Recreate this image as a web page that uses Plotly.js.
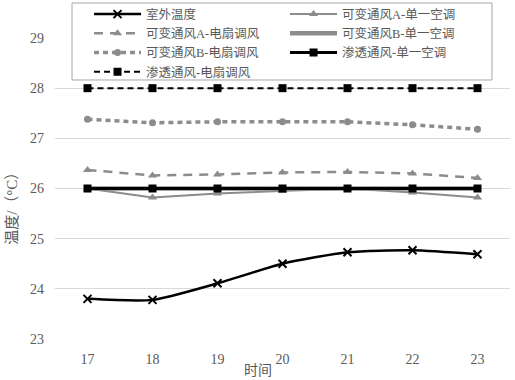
<!DOCTYPE html>
<html><head><meta charset="utf-8">
<script src="https://cdn.plot.ly/plotly-3.0.1.min.js"></script>
<style>html,body{margin:0;padding:0;background:#fff}#chart{width:515px;height:380px}</style>
</head><body><div id="chart"></div>
<script>
const hours = ['17','18','19','20','21','22','23'];
const outdoor = [23.80, 23.78, 24.11, 24.50, 24.73, 24.77, 24.69];
const varA_ac = [26.00, 25.82, 25.90, 25.95, 26.00, 25.92, 25.82];
const varA_fan = [26.37, 26.26, 26.28, 26.32, 26.33, 26.30, 26.21];
const varB_ac = [26.00, 26.00, 26.00, 26.00, 26.00, 26.00, 26.00];
const varB_fan = [27.38, 27.31, 27.33, 27.33, 27.33, 27.27, 27.18];
const inf_ac = [26.00, 26.00, 26.00, 26.00, 26.00, 26.00, 26.00];
const inf_fan = [28.00, 28.00, 28.00, 28.00, 28.00, 28.00, 28.00];
const names = ['室外温度','可变通风A-单一空调','可变通风A-电扇调风','可变通风B-单一空调','可变通风B-电扇调风','渗透通风-单一空调','渗透通风-电扇调风'];

const gray = '#8c8c8c';
const FONT = 'Liberation Serif, Noto Sans CJK SC, serif';
const traces = [
  {x:hours, y:outdoor, name:names[0], mode:'lines+markers', line:{color:'#000', width:2.5, shape:'spline', smoothing:0.6},
   marker:{symbol:'x-thin', size:8, line:{color:'#000', width:2}, color:'#000'}},
  {x:hours, y:varA_ac, name:names[1], mode:'lines+markers', line:{color:gray, width:2},
   marker:{symbol:'triangle-up', size:8, color:gray}},
  {x:hours, y:varA_fan, name:names[2], mode:'lines+markers', line:{color:gray, width:2.5, dash:'9px,7px'},
   marker:{symbol:'triangle-up', size:8, color:gray}},
  {x:hours, y:varB_ac, name:names[3], mode:'lines', line:{color:gray, width:4.5}},
  {x:hours, y:varB_ac, name:names[3], mode:'lines', line:{color:'#fff', width:1.5}, showlegend:false, hoverinfo:'skip'},
  {x:hours, y:varB_fan, name:names[4], mode:'lines+markers', line:{color:gray, width:3.5, dash:'5px,4px'},
   marker:{symbol:'circle', size:7, color:gray}},
  {x:hours, y:inf_ac, name:names[5], mode:'lines+markers', line:{color:'#000', width:3},
   marker:{symbol:'square', size:8, color:'#000'}},
  {x:hours, y:inf_fan, name:names[6], mode:'lines+markers', line:{color:'#000', width:2, dash:'6px,4px'},
   marker:{symbol:'square', size:8, color:'#000'}}
];

const layout = {
  width:515, height:380,
  margin:{l:55, r:5, t:38, b:41, autoexpand:false},
  paper_bgcolor:'#fff', plot_bgcolor:'#fff',
  font:{family:FONT, size:14, color:'#595959'},
  showlegend:true,
  legend:{orientation:'h', x:0.0748, xanchor:'left', y:1.128, yanchor:'top',
    bgcolor:'rgba(0,0,0,0)', borderwidth:0,
    font:{family:FONT, size:12.5, color:'#595959'},
    entrywidth:134, entrywidthmode:'pixels', itemwidth:47, tracegroupgap:0},
  xaxis:{type:'category', range:[-0.5,6.5], showgrid:false, zeroline:false, showline:false,
    ticks:'', ticklabelstandoff:10, tickfont:{size:14, color:'#595959'}},
  yaxis:{range:[23,29], dtick:1, showgrid:true, gridcolor:'#d9d9d9', gridwidth:1, zeroline:false, showline:false,
    ticks:'', ticklabelstandoff:10, tickfont:{size:14, color:'#595959'}},
  shapes:[
    {type:'rect', xref:'paper', yref:'paper', x0:0.0374, x1:0.9604, y0:0.8605, y1:1.1163,
     fillcolor:'#fff', line:{color:'#a6a6a6', width:1}, layer:'above'}
  ],
  annotations:[
    {text:'时间', xref:'paper', yref:'paper', x:0.446, y:-0.103, showarrow:false,
      font:{family:FONT, size:14, color:'#595959'}, xanchor:'center', yanchor:'middle'},
    {text:'温度/（°C）', xref:'paper', yref:'paper', x:-0.095, y:0.445, textangle:-90, showarrow:false,
      font:{family:FONT, size:15, color:'#595959'}, xanchor:'center', yanchor:'middle'}
  ]
};
Plotly.newPlot('chart', traces, layout, {displayModeBar:false, staticPlot:true});
</script></body></html>
